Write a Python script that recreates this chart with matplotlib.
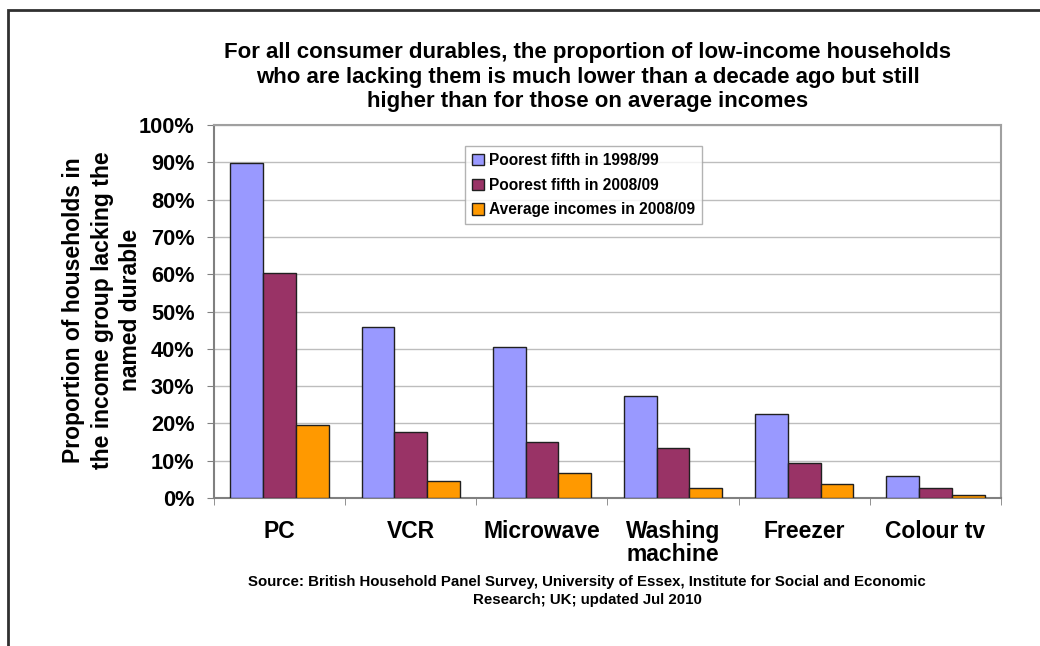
import matplotlib.pyplot as plt
import numpy as np
from matplotlib.patches import Rectangle
from matplotlib.ticker import PercentFormatter

plt.rcParams['font.family'] = ['Liberation Sans', 'DejaVu Sans']
plt.rcParams['font.weight'] = 'bold'

# Durables and share of households lacking each one (%)
durables = ['PC', 'VCR', 'Microwave', 'Washing\nmachine', 'Freezer', 'Colour tv']
poorest_1998 = [89.7, 45.8, 40.6, 27.3, 22.4, 5.9]
poorest_2008 = [60.2, 17.6, 14.9, 13.3, 9.3, 2.7]
average_2008 = [19.6, 4.5, 6.8, 2.7, 3.7, 0.9]
series_labels = ['Poorest fifth in 1998/99', 'Poorest fifth in 2008/09',
                 'Average incomes in 2008/09']
colors = ['#9999ff', '#993366', '#ff9900']

W, H = 1040, 646
fig = plt.figure(figsize=(W / 100, H / 100), dpi=100)
ax = fig.add_axes([214 / W, 1 - 498 / H, (1001 - 214) / W, (498 - 125) / H])

x = np.arange(len(durables))
width = 0.25
for i, (vals, lab, col) in enumerate(zip([poorest_1998, poorest_2008, average_2008],
                                         series_labels, colors)):
    ax.bar(x + (i - 1) * width, vals, width, color=col, edgecolor='#202020',
           linewidth=1.0, label=lab, zorder=3)

ax.set_xlim(-0.5, len(durables) - 0.5)
ax.set_ylim(0, 100)
ax.set_yticks(np.arange(0, 101, 10))
ax.yaxis.set_major_formatter(PercentFormatter(decimals=0))
ax.grid(axis='y', color='#bdbdbd', linewidth=1.0, zorder=0)

# category labels sit between boundary ticks
ax.set_xticks(x)
ax.set_xticklabels(durables, fontsize=16.5, fontweight='bold', linespacing=0.98,
                   va='top')
ax.tick_params(axis='x', length=0, pad=16)
ax.set_xticks(np.arange(-0.5, len(durables)), minor=True)
ax.tick_params(axis='x', which='minor', length=5, color='#808080', direction='out')
ax.tick_params(axis='y', length=5, color='#808080', labelsize=15.7, pad=9)
for lab in ax.get_yticklabels():
    lab.set_fontweight('bold')

for side in ['top', 'right']:
    ax.spines[side].set_color('#a0a0a0')
for side in ['left', 'bottom']:
    ax.spines[side].set_color('#808080')
for s in ax.spines.values():
    s.set_linewidth(1.5)

fig.text(102 / W, 1 - 310 / H,
         'Proportion of households in\nthe income group lacking the\nnamed durable',
         rotation=90, ha='center', va='center', fontsize=16.5, fontweight='bold',
         linespacing=1.3)

leg = ax.legend(loc='upper left', bbox_to_anchor=((465 - 214) / (1001 - 214), (498 - 146) / (498 - 125)),
                fontsize=11.2, frameon=True, fancybox=False, handlelength=0.75,
                handleheight=0.75, handletextpad=0.35, borderpad=0.45, labelspacing=0.62,
                borderaxespad=0)
leg.get_frame().set_edgecolor('#a0a0a0')
leg.get_frame().set_linewidth(1.0)
for t in leg.get_texts():
    t.set_fontweight('bold')

fig.text(588 / W, 1 - 77 / H,
         'For all consumer durables, the proportion of low-income households\n'
         'who are lacking them is much lower than a decade ago but still\n'
         'higher than for those on average incomes',
         ha='center', va='center', fontsize=16, fontweight='bold', linespacing=1.24)

fig.text(587 / W, 1 - 591 / H,
         'Source: British Household Panel Survey, University of Essex, Institute for Social and Economic\n'
         'Research; UK; updated Jul 2010',
         ha='center', va='center', fontsize=10.8, fontweight='bold', linespacing=1.4)

# outer chart border
fig.patches.append(Rectangle((8 / W, -0.1), 1.2, 1 - 10 / H + 0.1,
                             transform=fig.transFigure, fill=False,
                             edgecolor='#303030', linewidth=2))

fig.savefig('out.png', dpi=100)
